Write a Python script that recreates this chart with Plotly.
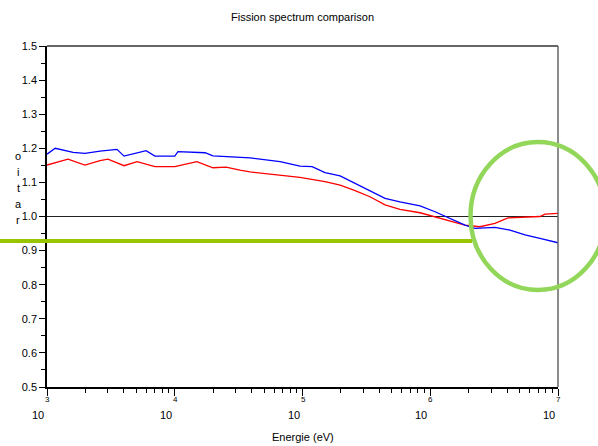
import math
import plotly.graph_objects as go

# ---- data (energy in eV, ratio) ----
energy_blue = [1000, 1160, 1600, 1980, 2600, 3530, 4010, 5960, 7000, 10000, 10600,
               17300, 19900, 32400, 38800, 66700, 95500, 1.19e5, 1.50e5, 1.97e5,
               2.58e5, 3.37e5, 4.43e5, 5.79e5, 8.32e5, 1.09e6, 1.43e6, 1.87e6,
               2.24e6, 3.21e6, 4.21e6, 5.52e6, 7.23e6, 1.0e7]
ratio_blue = [1.183, 1.200, 1.188, 1.185, 1.192, 1.197, 1.177, 1.193, 1.177, 1.177, 1.190,
              1.187, 1.178, 1.173, 1.172, 1.161, 1.148, 1.146, 1.129, 1.119,
              1.097, 1.076, 1.053, 1.043, 1.031, 1.014, 0.995, 0.975,
              0.965, 0.968, 0.960, 0.946, 0.936, 0.923]

energy_red = [1000, 1160, 1460, 1980, 2600, 3000, 4010, 5070, 7000, 10000, 14900,
              19900, 25200, 32400, 38800, 55700, 95500, 1.50e5, 1.97e5, 2.58e5,
              3.37e5, 4.43e5, 5.79e5, 8.32e5, 1.09e6, 1.43e6, 1.87e6, 2.45e6,
              3.21e6, 4.06e6, 7.23e6, 7.91e6, 1.0e7]
ratio_red = [1.151, 1.158, 1.168, 1.151, 1.164, 1.168, 1.149, 1.161, 1.146, 1.146, 1.161,
             1.143, 1.145, 1.136, 1.131, 1.124, 1.115, 1.102, 1.092, 1.076,
             1.058, 1.034, 1.021, 1.011, 0.999, 0.988, 0.975, 0.970,
             0.980, 0.996, 1.000, 1.007, 1.009]

decade_exponents = [3, 4, 5, 6, 7]
y_ticks = [0.5, 0.6, 0.7, 0.8, 0.9, 1.0, 1.1, 1.2, 1.3, 1.4, 1.5]

title_text = "Fission spectrum comparison"
x_title = "Energie (eV)"
y_title = "ratio"

W, H = 598, 446
L, R, T, B = 47, 40, 46, 59
PW, PH = W - L - R, H - T - B


def px(xp):
    return (xp - L) / PW


def py(yp):
    return (H - B - yp) / PH


FONT = "Liberation Sans, Arial, sans-serif"

fig = go.Figure()
fig.add_trace(go.Scatter(x=energy_red, y=ratio_red, mode="lines",
                         line=dict(color="#ff0000", width=1.3), showlegend=False))
fig.add_trace(go.Scatter(x=energy_blue, y=ratio_blue, mode="lines",
                         line=dict(color="#0000ff", width=1.3), showlegend=False))

decades = [10 ** e for e in decade_exponents]
minor_vals = [k * 10 ** e for e in decade_exponents[:-1] for k in range(2, 10)]

fig.update_xaxes(type="log", range=[decade_exponents[0], decade_exponents[-1]],
                 showgrid=False, zeroline=False,
                 showline=True, linecolor="black", linewidth=1.5,
                 tickmode="array", tickvals=decades, ticktext=[""] * len(decades),
                 ticks="outside", ticklen=7, tickwidth=1, tickcolor="black",
                 minor=dict(tickmode="array", tickvals=minor_vals, ticks="outside",
                            ticklen=4, tickwidth=1, tickcolor="black", showgrid=False))
fig.update_yaxes(range=[y_ticks[0], y_ticks[-1]], showgrid=False, zeroline=False,
                 showline=True, linecolor="black", linewidth=1.5,
                 tickmode="array", tickvals=y_ticks,
                 ticktext=[f"{v:.1f}" for v in y_ticks],
                 ticks="outside", ticklen=6, tickwidth=1, tickcolor="black",
                 tickfont=dict(family=FONT, size=11, color="black"),
                 minor=dict(dtick=0.05, ticks="outside", ticklen=4, tickwidth=1,
                            tickcolor="black", showgrid=False))

shapes = [
    # reference line at ratio 1
    dict(type="line", xref="paper", yref="y", x0=0, x1=1, y0=1.0, y1=1.0,
         line=dict(color="#222222", width=1), layer="below"),
    # top and right frame
    dict(type="line", xref="paper", yref="paper", x0=0, x1=1, y0=1, y1=1,
         line=dict(color="#333333", width=1.5)),
    dict(type="line", xref="paper", yref="paper", x0=1, x1=1, y0=0, y1=1,
         line=dict(color="#666666", width=1.5)),
    # green highlight line
    dict(type="line", xref="paper", yref="paper", x0=px(0), x1=px(472),
         y0=py(241), y1=py(241), line=dict(color="#99c400", width=4)),
    # green circle
    dict(type="circle", xref="paper", yref="paper", x0=px(470.5), x1=px(605.5),
         y0=py(290), y1=py(142), line=dict(color="#92d65a", width=4.5)),
]

annotations = [
    dict(text=title_text, xref="paper", yref="paper", x=0.5, y=py(17),
         showarrow=False, xanchor="center", yanchor="middle",
         font=dict(family=FONT, size=11, color="black")),
    dict(text=x_title, xref="paper", yref="paper", x=0.5, y=py(437),
         showarrow=False, xanchor="center", yanchor="middle",
         font=dict(family=FONT, size=11, color="black")),
]
# vertical stacked y title (letters upright, read bottom to top)
for i, ch in enumerate(reversed(list(y_title))):
    annotations.append(dict(text=ch, xref="paper", yref="paper",
                            x=px(18), y=py(156 + 16 * i), showarrow=False,
                            xanchor="center", yanchor="middle",
                            font=dict(family=FONT, size=11, color="black")))
n_dec = decade_exponents[-1] - decade_exponents[0]
for e in decade_exponents:
    xfrac = (e - decade_exponents[0]) / n_dec
    annotations.append(dict(text=str(e), xref="paper", yref="paper",
                            x=xfrac, y=py(399), xshift=0.5,
                            showarrow=False, xanchor="center", yanchor="middle",
                            font=dict(family=FONT, size=8, color="black")))
    annotations.append(dict(text="10", xref="paper", yref="paper", x=xfrac, y=py(415),
                            xshift=-9, showarrow=False, xanchor="center",
                            yanchor="middle",
                            font=dict(family=FONT, size=11, color="black")))

fig.update_layout(width=W, height=H, margin=dict(l=L, r=R, t=T, b=B),
                  paper_bgcolor="white", plot_bgcolor="white",
                  shapes=shapes, annotations=annotations, showlegend=False)

fig.write_html("out.html", config={"displayModeBar": False},
               post_script="document.body.style.margin='0px';"
                           "document.body.style.overflow='hidden';")
